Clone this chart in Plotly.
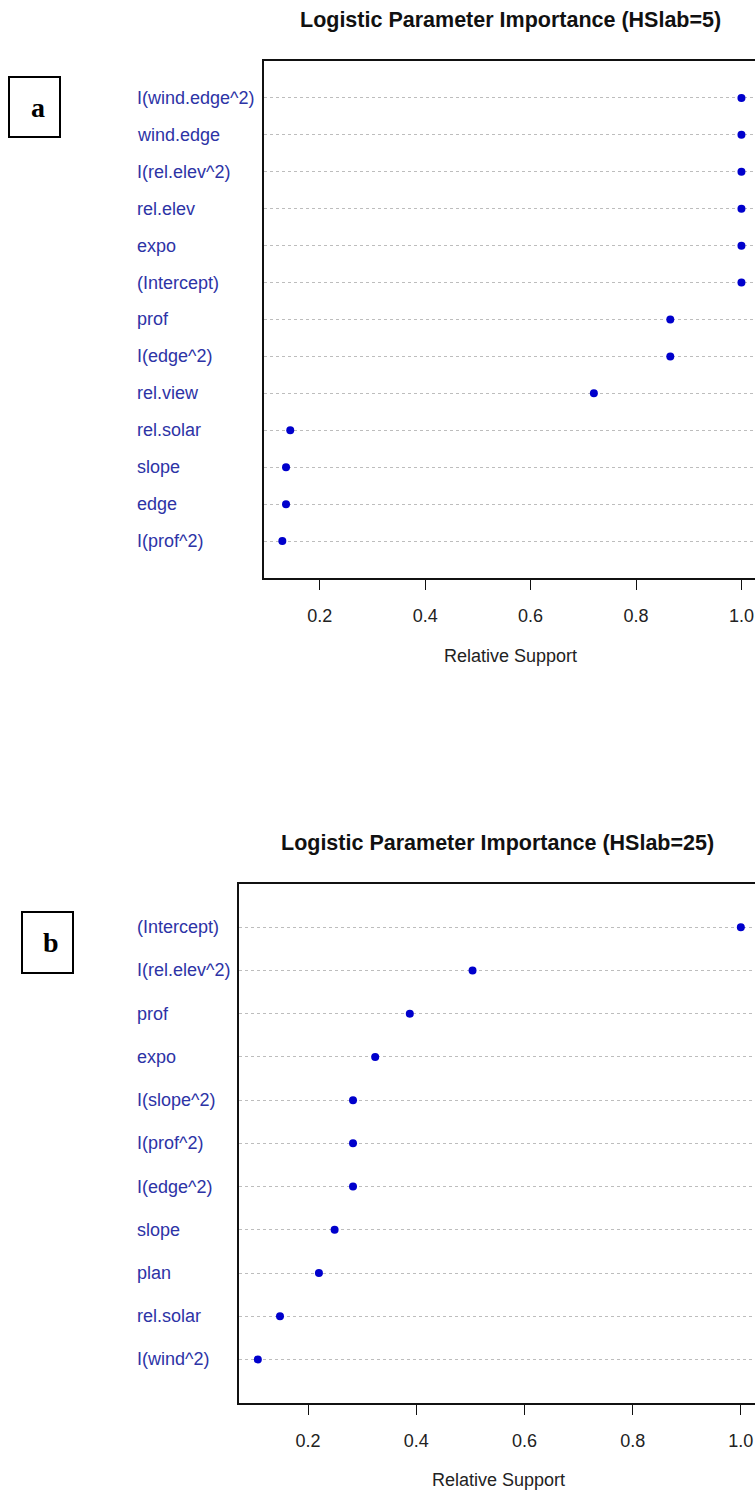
import plotly.graph_objects as go

# ---------------- data ----------------
params_a = ["I(wind.edge^2)", "wind.edge", "I(rel.elev^2)", "rel.elev", "expo",
            "(Intercept)", "prof", "I(edge^2)", "rel.view", "rel.solar",
            "slope", "edge", "I(prof^2)"]
support_a = [1.0, 1.0, 1.0, 1.0, 1.0, 1.0, 0.865, 0.865, 0.720, 0.144,
             0.136, 0.136, 0.129]

params_b = ["(Intercept)", "I(rel.elev^2)", "prof", "expo", "I(slope^2)",
            "I(prof^2)", "I(edge^2)", "slope", "plan", "rel.solar", "I(wind^2)"]
support_b = [1.0, 0.504, 0.388, 0.324, 0.283, 0.283, 0.283, 0.249, 0.220,
             0.148, 0.107]

tick_vals = [0.2, 0.4, 0.6, 0.8, 1.0]
tick_text = ["0.2", "0.4", "0.6", "0.8", "1.0"]

title_a = "Logistic Parameter Importance (HSlab=5)"
title_b = "Logistic Parameter Importance (HSlab=25)"
xlabel = "Relative Support"

# ---------------- layout helpers ----------------
W, H = 755, 1497


def px(x):
    return x / W


def py(y):
    return 1 - y / H


FONT = "Liberation Sans, Arial, sans-serif"
SERIF = "Liberation Serif, Times New Roman, serif"
LABEL_COL = "#2D33A6"
DOT_COL = "#0000CC"

fig = go.Figure()

panels = [
    dict(names=params_a, vals=support_a, xa="x", ya="y", xl="xaxis", yl="yaxis",
         left=264.0, top=61.0, bottom=578.0, xr=[0.0942, 1.0257],
         title=title_a, tx=511, ty=20, lx=135, axy=656, axx=510.5,
         box=(9, 77, 60, 137), letter="a", letx=37.5, lety=108),
    dict(names=params_b, vals=support_b, xa="x2", ya="y2", xl="xaxis2", yl="yaxis2",
         left=238.5, top=884.0, bottom=1402.7, xr=[0.0713, 1.0262],
         title=title_b, tx=498, ty=843, lx=135, axy=1480, axx=498.8,
         box=(22, 912, 73, 973), letter="b", letx=51, lety=942),
]

annotations = []
shapes = []
layout_axes = {}

for p in panels:
    n = len(p["names"])
    ypos = [n - i for i in range(n)]
    fig.add_trace(go.Scatter(
        x=p["vals"], y=ypos, mode="markers", xaxis=p["xa"], yaxis=p["ya"],
        marker=dict(color=DOT_COL, size=8), showlegend=False, hoverinfo="skip"))

    layout_axes[p["xl"]] = dict(
        domain=[px(p["left"]), 1.0], range=p["xr"], anchor=p["ya"],
        tickvals=tick_vals, ticktext=tick_text, ticks="outside", ticklen=10,
        tickwidth=1.3, tickcolor="#111", showline=True, mirror=True,
        linecolor="#111", linewidth=1.6, showgrid=False, zeroline=False,
        tickfont=dict(family=FONT, size=18, color="#222"),
        ticklabelstandoff=11, fixedrange=True)
    layout_axes[p["yl"]] = dict(
        domain=[py(p["bottom"]), py(p["top"])], range=[0, n + 1], anchor=p["xa"],
        tickvals=ypos, showticklabels=False, ticks="", showline=True, mirror=False,
        linecolor="#111", linewidth=1.6, showgrid=True, gridcolor="#BDBDBD",
        griddash="dot", gridwidth=1, zeroline=False, fixedrange=True)

    # left-aligned row labels
    for name, yv in zip(p["names"], ypos):
        annotations.append(dict(
            text=name, x=px(p["lx"]), xref="paper", y=yv, yref=p["ya"],
            xanchor="left", yanchor="middle", showarrow=False,
            font=dict(family=FONT, size=18, color=LABEL_COL)))
    # title
    annotations.append(dict(
        text="<b>" + p["title"] + "</b>", x=px(p["tx"]), y=py(p["ty"]),
        xref="paper", yref="paper", xanchor="center", yanchor="middle",
        showarrow=False, font=dict(family=FONT, size=21.5, color="#111")))
    # x-axis title
    annotations.append(dict(
        text=xlabel, x=px(p["axx"]), y=py(p["axy"]), xref="paper", yref="paper",
        xanchor="center", yanchor="middle", showarrow=False,
        font=dict(family=FONT, size=18, color="#222")))
    # panel letter box
    x0, y0, x1, y1 = p["box"]
    shapes.append(dict(type="rect", xref="paper", yref="paper",
                       x0=px(x0), x1=px(x1), y0=py(y1), y1=py(y0),
                       line=dict(color="black", width=2), fillcolor="rgba(0,0,0,0)"))
    annotations.append(dict(
        text="<b>" + p["letter"] + "</b>", x=px(p["letx"]), y=py(p["lety"]),
        xref="paper", yref="paper", xanchor="center", yanchor="middle",
        showarrow=False, font=dict(family=SERIF, size=28, color="black")))

fig.update_layout(
    width=W, height=H, margin=dict(l=0, r=0, t=0, b=0),
    paper_bgcolor="white", plot_bgcolor="white",
    annotations=annotations, shapes=shapes, showlegend=False,
    **layout_axes)

fig.write_html("out.html", config={"displayModeBar": False})
